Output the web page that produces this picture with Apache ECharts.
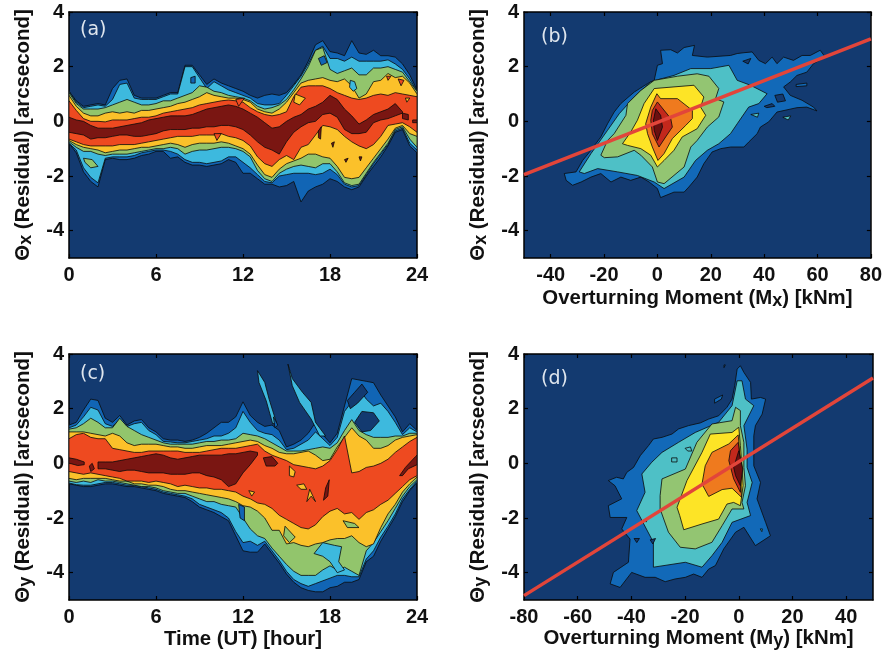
<!DOCTYPE html>
<html><head><meta charset="utf-8">
<style>html,body{margin:0;padding:0;background:#fff}#c{width:885px;height:657px;filter:blur(0.35px)}</style>
<script src="https://cdn.jsdelivr.net/npm/echarts@6/dist/echarts.min.js"></script>
</head><body><div id="c"></div>
<script>
const hours=[0,.5,1,1.5,2,2.5,3,3.5,4,4.5,5,5.5,6,6.5,7,7.5,8,8.5,9,9.5,10,10.5,11,11.5,12,12.5,13,13.5,14,14.5,15,15.5,16,16.5,17,17.5,18,18.5,19,19.5,20,20.5,21,21.5,22,22.5,23,23.5,24];
const yTicks=[-4,-2,0,2,4];
const hourTicks=[0,6,12,18,24];
const mxTicks=[-40,-20,0,20,40,60,80];
const myTicks=[-80,-60,-40,-20,0,20,40];

// Panel (a)
const aUp1=[1.1,.75,.55,.6,.65,.6,1.2,1.5,1.55,.95,.85,.85,.85,.95,1.05,1.05,2.05,2.05,1.7,1.35,1.55,1.4,1.3,1.2,1.1,.95,.85,.95,1,.95,1.05,1.35,1.7,2.2,2.8,2.95,2.55,2.5,2.4,2.95,2.5,2.45,2.6,2.4,2.4,2.35,2.1,1.7,1.15];
const aUp2=[1.1,.7,.5,.55,.6,.55,.8,1.35,1.4,.85,.8,.8,.8,.9,1,1,2,2,1.6,1.2,1.45,1.3,1.15,1.05,.95,.85,.65,.6,.6,.65,.95,1.3,1.65,2.1,2.6,2.75,2.3,2.3,2.2,2.35,2.2,2.2,2.2,2.2,2.25,2.1,1.9,1.55,1.1];
const aUp3=[1.05,.65,.45,.45,.45,.5,.6,.7,.8,.7,.6,.6,.65,.75,.75,.85,.95,1.05,1.3,1.25,1.1,1.05,.95,.9,.85,.75,.55,.45,.5,.6,.8,1.15,1.55,2,2.6,2.7,1.9,1.75,1.85,1.95,1.7,1.7,1.95,1.95,2,1.9,1.8,1.45,1.1];
const aUp4=[.95,.55,.3,.2,.2,.3,.35,.3,.35,.3,.4,.4,.45,.5,.55,.65,.7,.8,.9,1.05,.95,.9,.85,.85,.8,.7,.45,.35,.3,.45,.7,1.05,1.4,1.5,1.55,1.6,1.5,1.45,1.55,1.3,.85,1,1.45,1.5,1.75,1.6,1.65,1.4,1];
const aUp5=[.75,.4,.1,0,0,-.02,.05,.05,.05,.1,.15,.15,.2,.3,.35,.4,.45,.5,.6,.65,.7,.75,.78,.75,.7,.5,.35,.25,.2,.25,.35,.9,1.25,1.3,1.3,1.3,1.2,1.05,.95,.85,.8,.85,.95,1,.95,1.05,1,.95,.9];
const aUp6=[.15,.05,0,-.15,-.25,-.25,-.25,-.2,-.15,-.1,-.05,.05,.1,.15,.2,.2,.2,.25,.35,.45,.5,.55,.6,.55,.45,.3,.15,-.05,-.25,-.2,0,.15,.25,.45,.55,.7,.95,.8,.45,.2,-.1,.05,.25,.35,.45,.65,.35,null,null];
const aLo1=[-.8,-1.15,-1.85,-2.2,-2.4,-1.4,-1.35,-1.4,-1.4,-1.35,-1.25,-1.2,-1.1,-1.1,-1.35,-1.3,-1.5,-1.6,-1.6,-1.65,-1.6,-1.55,-1.4,-1.5,-1.9,-1.9,-2.1,-2.3,-2.3,-2.4,-2.35,-2.2,-2.95,-2.55,-2.4,-2.3,-2.1,-2.2,-2.4,-2.5,-2.4,-2,-1.65,-1.3,-.9,-.4,-.3,-.9,-1.15];
const aLo2=[-.8,-1.05,-1.7,-2.05,-2.25,-1.35,-1.3,-1.3,-1.3,-1.25,-1.15,-1.1,-1.05,-1.05,-1.1,-1.2,-1.4,-1.5,-1.5,-1.55,-1.5,-1.45,-1.3,-1.3,-1.5,-1.7,-1.95,-2.2,-2.25,-2,-1.95,-1.9,-1.9,-1.9,-1.95,-1.9,-1.75,-1.95,-2.3,-2.4,-2.35,-1.95,-1.55,-1.2,-.85,-.35,-.25,-.8,-1.05];
const aLo3=[-.75,-.95,-1.1,-1.1,-1.2,-1.25,-1.2,-1.2,-1.2,-1.15,-1.1,-1.05,-1,-1,-.95,-1,-1.2,-1.1,-1.05,-1.05,-1,-.95,-.95,-1,-1.1,-1.3,-1.8,-2.1,-2.2,-1.9,-1.75,-1.65,-1.6,-1.65,-1.7,-1.55,-1.55,-1.85,-2.25,-2.35,-2.3,-1.9,-1.5,-1.15,-.8,-.3,-.2,-.65,-.95];
const aLo4=[-.7,-.85,-.95,-1,-1.05,-1.15,-1.1,-1.05,-1.05,-1,-.95,-.95,-.9,-.85,-.8,-.85,-.95,-.85,-.8,-.8,-.8,-.75,-.8,-.9,-1,-1.2,-1.6,-1.95,-2.05,-1.75,-1.55,-1.45,-1.35,-1.2,-1.2,-1.3,-1.35,-1.65,-2.05,-2.1,-2.05,-1.7,-1.35,-1,-.65,-.25,-.15,-.45,-.55];
const aLo5=[-.65,-.75,-.85,-.9,-.9,-.9,-.9,-.85,-.85,-.85,-.8,-.75,-.7,-.65,-.6,-.55,-.55,-.55,-.5,-.5,-.5,-.45,-.55,-.6,-.7,-.9,-1.3,-1.55,-1.65,-1.4,-1.25,-1.4,-.95,-.85,-.5,-.15,-.2,-.3,-.55,-.75,-.9,-1,-.85,-.55,-.15,-.1,-.05,-.2,-.4];
const aLo6=[-.4,-.45,-.5,-.65,-.6,-.6,-.55,-.5,-.5,-.55,-.55,-.5,-.45,-.35,-.3,-.3,-.3,-.25,-.25,-.2,-.2,-.15,-.15,-.2,-.3,-.5,-.75,-.95,-1.05,-1.2,-.75,-.4,-.2,-.05,0,.25,.3,.15,-.3,-.45,-.45,-.4,-.05,.05,.1,.2,.3,null,null];
const aSpots=[
 [1,[[17.2,2.3],[17.6,2.4],[17.8,2.15],[17.4,2.05]]],
 [2,[[19.4,1.5],[19.7,1.45],[19.85,1.2],[19.6,1.1],[19.35,1.25]]],
 [3,[[1,-1.35],[1.6,-1.4],[2,-1.65],[1.5,-1.7],[1.1,-1.5]]],
 [1,[[8.4,1.6],[8.7,1.65],[8.7,1.4],[8.4,1.4]]],
 [5,[[11.5,.8],[12.1,.85],[11.7,.55]]],
 [5,[[10,-.45],[10.5,-.45],[10.2,-.7]]],
 [4,[[15.6,1.0],[16.3,.85],[15.9,.6],[15.5,.7]]],
 [5,[[21.9,1.65],[22.2,1.65],[22,1.5]]],
 [5,[[22.7,1.55],[23.1,1.5],[22.9,1.3]]],
 [4,[[23.2,.85],[23.5,.85],[23.3,.7]]],
 [6,[[23,.3],[23.4,.25],[23.4,.05],[23,.1]]],
 [6,[[23.7,.05],[24,.05],[24,-.05],[23.7,-.05]]],
 [6,[[17.2,-.35],[17.4,-.2],[17.35,-.65],[17.2,-.6]]],
 [6,[[20,-1.3],[20.2,-1.3],[20.1,-1.45]]],
 [6,[[19,-1.4],[19.25,-1.35],[19.1,-1.5]]],
 [6,[[18.1,-.8],[18.3,-.75],[18.2,-.95]]]
];

// Panel (c)
const cUp1=[1.4,1.5,1.95,2.35,2.3,1.65,1.5,1.75,1.4,1.55,1.6,1.3,1.15,.9,.85,.85,.8,.85,.95,1.1,1.3,1.5,1.5,1.7,2.25,1.75,1.5,1.35,1.4,1.2,.6,.7,.85,1.1,1.5,1.05,.75,1.1,2.1,3.1,3.05,3,2.95,2.5,2.1,1.7,1.15,1.45,1.2];
const cUp2=[1.3,1.4,1.7,2.05,1.95,1.45,1.35,1.6,1.35,1.45,1.5,1.2,1.05,.8,.78,.75,.75,.8,.85,.9,1,1,1.1,1.3,1.9,1.5,1.2,1.1,1.05,.85,.5,.55,.7,.85,1.15,.9,.65,.95,1.9,2.25,2.75,2.35,2.1,2.2,1.9,1.5,1.05,1.3,1.15];
const cUp3=[1.25,1.3,1.45,1.65,1.5,1.3,1.3,1.65,1.35,1.2,1.05,.95,.85,.75,.7,.7,.7,.7,.75,.8,.8,.85,.85,.9,1.1,1.05,1,.9,.75,.6,.45,.45,.45,.5,.55,.6,.55,.75,1.2,1.6,1.2,1.05,.95,.95,.95,1,1,1.1,1.1];
const cUp4=[1.15,1.15,1.15,1.1,1.05,1,1.1,1,.75,.65,.7,.7,.7,.65,.6,.6,.55,.55,.6,.65,.65,.65,.7,.75,.8,.85,.8,.65,.55,.4,.35,.35,.4,.45,.3,.1,.15,.6,.95,1.3,1,.85,.55,.55,.65,.85,.95,1,1.05];
const cUp5=[.9,1.05,1.1,.95,.9,.9,.55,.5,.45,.4,.4,.45,.45,.45,.45,.45,.4,.4,.4,.45,.5,.55,.55,.55,.6,.65,.7,.45,.3,.2,.1,-.05,-.1,-.15,-.2,-.1,.1,.5,1,-.35,-.3,-.15,-.1,0,.15,.4,.6,.8,.95];
const cUp6=[null,null,null,null,.05,.05,.05,.1,.15,.2,.25,.3,.35,.3,.2,.15,.2,.25,.3,.3,.3,.3,.35,.35,.4,.45,.4,null,null,null,null,null,null,null,null,null,null,null,null,null,null,null,null,null,null,null,null,null,null];
const cLo1=[-.75,-.8,-.85,-.85,-.8,-.75,-.75,-.8,-.85,-.85,-.9,-.95,-1,-1.1,-1.15,-1.2,-1.25,-1.4,-1.6,-1.7,-1.8,-1.95,-2.1,-2.65,-3.2,-3.25,-3.25,-2.95,-3.3,-3.65,-4.05,-4.35,-4.55,-4.65,-4.7,-4.7,-4.55,-4.5,-4.35,-4.35,-4.25,-3.6,-3.4,-2.85,-2.4,-1.95,-1.4,-1,-.7];
const cLo2=[-.72,-.78,-.8,-.8,-.75,-.7,-.7,-.75,-.8,-.8,-.85,-.9,-.95,-1.05,-1.1,-1.15,-1.2,-1.3,-1.5,-1.6,-1.7,-1.8,-2,-2.5,-2.9,-2.85,-3,-2.85,-3.2,-3.55,-3.95,-4.25,-4.4,-4.5,-4.4,-4.3,-4.2,-4.1,-4.1,-4.15,-4.15,-3.5,-3.2,-2.7,-2.3,-1.85,-1.3,-.95,-.65];
const cLo3=[-.65,-.7,-.65,-.7,-.6,-.65,-.65,-.7,-.75,-.8,-.85,-.85,-.9,-1,-1.05,-1.1,-1.1,-1.2,-1.3,-1.4,-1.4,-1.5,-1.55,-1.6,-2,-2.4,-2.65,-2.75,-3.1,-3.4,-3.7,-3.95,-4.1,-4.1,-4.1,-3.9,-3.75,-3.9,-3.8,-3.95,-4.1,-3.2,-2.9,-2.5,-2.1,-1.65,-1.2,-.85,-.6];
const cLo4=[-.55,-.6,-.55,-.55,-.55,-.55,-.6,-.65,-.65,-.75,-.75,-.8,-.8,-.85,-.95,-1,-1,-1.05,-1.1,-1.15,-1.2,-1.25,-1.3,-1.4,-1.55,-1.6,-1.75,-2,-2.45,-2.45,-2.95,-2.9,-3,-3.05,-2.95,-2.9,-2.8,-2.75,-2.75,-2.65,-2.9,-3.05,-2.95,-2.35,-1.85,-1.5,-1.05,-.75,-.5];
const cLo5=[-.3,-.35,-.4,-.35,-.4,-.45,-.5,-.55,-.65,-.65,-.65,-.7,-.65,-.7,-.75,-.85,-.8,-.85,-.9,-.9,-.95,-.95,-1,-1.05,-1.2,-1.3,-1.45,-1.5,-1.65,-1.9,-2.05,-2.2,-2.35,-2.4,-2.25,-1.95,-1.75,-1.65,-1.85,-1.8,-2.05,-1.8,-1.7,-1.5,-1.35,-1.1,-.85,-.6,-.45];
const cLo6=[null,null,null,null,-.2,-.2,-.25,-.3,-.25,-.25,-.3,-.35,-.35,-.35,-.4,-.4,-.4,-.35,-.35,-.45,-.5,-.6,-.85,-.75,-.35,-.05,.3,null,null,null,null,null,null,null,null,null,null,null,null,null,null,null,null,null,null,null,null,null,null];
const cSpots=[
 [0,[[19.7,1.5],[20.2,1.9],[21,1.85],[21.4,1.55],[20.8,1.2],[20.2,1.15]]],
 [0,[[19.2,2.3],[19.7,2.6],[20.2,2.9],[20.6,2.6],[19.9,2.2],[19.4,2]]],
 [2,[[13,3.39],[13.5,2.96],[13.8,2.35],[14.3,1.5],[14.05,1.44],[13.6,2.29],[13.1,2.96]]],
 [2,[[15.1,3.63],[15.4,3.1],[16.1,2.6],[16.7,2.23],[17,1.5],[17.7,1],[17.3,1],[16.7,1.62],[15.9,2.23],[15.4,2.84]]],
 [1,[[14.1,1.7],[14.4,1.4],[14.2,1.3]]],
 [4,[[15.2,-.1],[15.6,-.3],[15.5,-.5],[15.2,-.45]]],
 [4,[[15.7,-.8],[16.2,-.75],[16.4,-.95],[16,-.95]]],
 [4,[[16.4,-1.4],[16.6,-.95],[17,-1.4],[16.7,-1.2]]],
 [4,[[12.4,-1],[12.8,-1.05],[12.6,-1.2]]],
 [3,[[14.9,-2.3],[15.6,-2.7],[15.2,-2.9],[14.8,-2.65]]],
 [3,[[18.9,-2.1],[19.7,-2.2],[20,-2.35],[19.2,-2.35]]],
 [2,[[16.9,-3.3],[17.5,-2.9],[18.3,-3],[18.8,-3.05],[18.6,-3.6],[19,-3.9],[18.5,-4],[18,-3.6],[17.5,-3.4]]],
 [6,[[17.55,-1.35],[17.7,-.9],[17.95,-.6],[17.85,-1.2]]],
 [6,[[0,.2],[.5,.15],[1.05,.05],[1.05,-.05],[.6,-.08],[.2,-.02],[0,0]]],
 [6,[[13.4,.2],[14,.25],[14.4,0],[14.2,-.1],[13.6,-.1]]],
 [6,[[22.8,-.45],[23.2,-.15],[23.9,.25],[24,.3],[24,-.05],[23.4,-.2],[23,-.45]]],
 [6,[[1.5,-.3],[1.75,-.2],[1.6,.0],[1.4,-.1]]],
 [1,[[11.7,-1.5],[12.1,-1.6],[12.1,-2.1],[11.8,-2]]]
];

// Panel (b): contour outlines, [moment, residual]
const bLevel1=[[-34.9,-1.91],[-30.5,-1.85],[-28,-1.43],[-24.9,-1.06],[-21.2,-.57],[-18.7,-.09],[-16.2,.34],[-13.7,.65],[-8.7,1.07],[-3.7,1.38],[-1.2,1.5],[0,2.05],[1.9,2.11],[1.2,2.6],[5,2.62],[7.5,2.5],[10,2.7],[13.9,2.78],[13.1,2.41],[18.7,2.35],[27.4,2.41],[29.9,2.48],[32.4,2.51],[35.5,2.54],[38,2.23],[40.5,2.11],[43,2.35],[44.8,2.11],[47.3,2.35],[51,2.23],[54.2,2.41],[57.3,2.41],[61,2.6],[62.9,2.35],[58.5,2.11],[56,1.8],[52.3,1.68],[49.8,1.44],[47.3,1.26],[49.8,.95],[54.2,.77],[58.5,.52],[59.8,.38],[56,.52],[52.3,.5],[44.8,.34],[41.7,-.02],[38.6,-.21],[37.4,-.45],[34.2,-.76],[32.4,-.94],[27.4,-.94],[23.7,-1],[20.5,-1.12],[17.4,-1.55],[14.9,-2.04],[11.8,-2.4],[10,-2.59],[6.2,-2.59],[1.2,-2.79],[0,-2.46],[-3.1,-2.22],[-6.2,-2.04],[-10,-2.16],[-13.7,-2.04],[-17.4,-2.22],[-21.2,-1.91],[-24.9,-2.04],[-28.6,-2.22],[-31.8,-2.34],[-34.2,-2.16]];
const bLevel2=[[-29.3,-1.85],[-24.9,-1.18],[-18.7,-.33],[-14.3,.28],[-8.1,.95],[-2.5,1.44],[0,1.52],[6.2,1.68],[12.5,1.93],[20,1.93],[26.8,2.05],[29.9,1.5],[34.9,1.32],[41.1,1.01],[38,.65],[34.2,.52],[29.9,-.09],[27.4,-.45],[23,-.82],[18.7,-1.06],[14.3,-1.43],[10,-2.04],[2.5,-2.46],[-1.2,-2.22],[-7.5,-1.98],[-14.9,-1.85],[-22.4,-1.73],[-27.4,-1.91]];
const bLevel3=[[-21.2,-1.24],[-18.7,-.7],[-16.2,-.45],[-11.8,.22],[-11.2,.65],[-6.2,1.13],[-1.2,1.5],[7.5,1.65],[14.9,1.74],[19.3,1.65],[23,1.2],[21.8,.83],[24.9,.71],[23,.16],[18.7,-.21],[14.9,-.7],[12.5,-.94],[10,-1.67],[2.5,-2.28],[0,-2.22],[-1.9,-1.67],[-6.2,-1.24],[-8.7,-1.06],[-14.9,-1.3],[-19.9,-1.33]];
const bLevel4=[[-13.1,-.82],[-10,-.39],[-7.5,.04],[-5,.65],[-1.2,1.2],[6.2,1.26],[13.7,1.32],[17.4,.89],[16.2,.52],[18.1,.22],[14.9,-.27],[9.3,-.57],[6.2,-1.06],[2.5,-1.43],[0,-1.67],[-2.5,-1.24],[-6.2,-1],[-11.2,-.88]];
const bLevel5=[[-4.4,-.09],[-2.5,.52],[-.2,1.01],[1.2,.83],[7.5,.83],[13.1,.4],[13.1,.1],[10.6,-.15],[5.6,-.63],[2.5,-1.18],[.2,-1.43],[-1.9,-.94],[-3.7,-.45]];
const bLevel6=[[-2.5,.04],[-1.9,.4],[0,.71],[5,.1],[5.6,-.21],[3.1,-.57],[.6,-.94],[-1.9,-.45]];
const bLevel7=[[-1.5,.04],[-.6,.46],[1.2,.22],[1.9,-.21],[0,-.7],[-1.2,-.33]];
const bSpots=[
 [0,[[40,.55],[43,.65],[44,.55],[41,.5]]],[0,[[44,.95],[47,1.0],[48,.75],[45,.7]]],
 [1,[[52,1.35],[56,1.4],[56,1.3],[52,1.27]]],[2,[[35,.25],[38,.3],[37.5,.15]]],
 [2,[[47,.15],[50,.2],[49,.05]]],[0,[[32,2.2],[35,2.3],[34,2.1]]]
];
const bFit=[[-50,-1.95],[80,3.02]];

// Panel (d): contour outlines, [moment, residual]
const dLevel1=[[-48.6,-.63],[-45.5,-.51],[-43,-.57],[-41.7,-.33],[-39.2,-.15],[-36.7,.28],[-33.6,.65],[-31.8,.89],[-28.6,.95],[-24.9,1.07],[-22.4,1.26],[-18.7,1.38],[-14.3,1.48],[-11.2,1.62],[-7.5,1.74],[-4.4,2.05],[-2.5,2.35],[-1.5,2.84],[-.6,3.45],[.6,3.57],[1.9,3.33],[4.4,2.96],[4.7,2.35],[8.1,2.41],[10,2.35],[8.7,1.8],[6.2,1.38],[5.6,1.01],[5.6,.52],[5.6,-.09],[8.1,-.7],[6.8,-1.3],[10,-2.16],[11.8,-2.65],[6.2,-3.01],[1.9,-2.34],[-1.2,-2.52],[-5.6,-3.13],[-8.7,-3.74],[-11.2,-3.87],[-13.7,-4.17],[-16.8,-4.05],[-19.9,-4.17],[-23.7,-4.23],[-27.4,-4.33],[-31.1,-4.17],[-34.9,-4.17],[-39.9,-3.99],[-44.2,-4.54],[-47.9,-4.41],[-46.7,-3.99],[-41.1,-3.62],[-40.5,-2.77],[-43.6,-2.4],[-41.7,-1.98],[-47.9,-1.98],[-48.6,-1.55],[-43.6,-1.3],[-46.1,-.82]];
const dLevel2=[[-36.1,-.39],[-32.4,.04],[-28.6,.4],[-22.4,.77],[-16.2,1.13],[-7.5,1.5],[-2.5,2.11],[-.6,3.02],[1.2,3.02],[2.5,2.35],[5.6,2.11],[1.9,1.38],[3.1,.52],[3.1,-.15],[5,-.7],[3.1,-1.43],[4.4,-1.91],[-2.5,-2.16],[-6.2,-2.89],[-10,-3.38],[-13.7,-3.8],[-19.9,-3.62],[-31.8,-3.8],[-31.8,-2.89],[-38,-1.73],[-34.9,-1.06]];
const dLevel3=[[-29.3,-1.18],[-28.6,-.57],[-19.9,-.21],[-15.6,.77],[-10,1.44],[-2.5,1.56],[-1.2,2.05],[.6,1.93],[.6,1.38],[1.9,.77],[1.9,-.15],[2.5,-.82],[1.2,-1.43],[1.9,-1.67],[-2.5,-1.67],[-6.2,-2.28],[-10,-2.89],[-16.2,-3.13],[-21.8,-3.07],[-26.2,-2.52],[-29.3,-1.67]];
const dLevel4=[[-23,-1.61],[-19.3,-.63],[-13.7,.4],[-10.6,1.07],[-2.5,1.13],[0,1.32],[.6,.65],[1.2,-.15],[1.6,-.82],[.6,-1.55],[-1.9,-1.43],[-4.4,-1.49],[-7.5,-2.04],[-13.7,-2.22],[-20.5,-2.43],[-22,-1.91]];
const dLevel5=[[-13.7,-.76],[-12.5,-.09],[-10,.4],[-3.7,.71],[-.2,1.04],[.6,.04],[1,-1.24],[-2.5,-.91],[-6.2,-.96],[-11.2,-1.21]];
const dLevel6=[[-3.7,.1],[-3.1,.46],[-.2,.77],[1,-.21],[.6,-1.06],[-1.9,-.57]];
const dLevel7=[[-1.9,-.15],[0,.46],[1.5,-.21],[.6,-.82],[-1.2,-.45]];
const dSpots=[
 [1,[[-6,2.5],[-9,2.35],[-9,2.2],[-6.5,2.35]]],[1,[[-5.5,3.6],[-5,3.6],[-5.5,3.5]]],
 [2,[[-25,.2],[-23,.2],[-23,.05],[-25,.05]]],[2,[[-20,.55],[-18,.6],[-17.5,.45],[-19,.45]]],
 [2,[[8,-2.4],[8.8,-2.4],[8.6,-2.5]]],[0,[[-39,-2.75],[-37,-2.75],[-38,-2.9]]],
 [0,[[-33,-2.8],[-31,-2.75],[-32,-2.95]]],[0,[[-35,-2.05],[-34,-2],[-34.5,-2.15]]]
];
const dFit=[[-80,-4.84],[50,3.12]];

const warm=['#133a70','#1165b5','#3db9de','#92c56c','#fbc12a','#ee4a20','#7a1612'];
const cool=['#133a70','#1269b8','#4ec0c6','#93c572','#fde426','#ef7a1e','#c3281c','#6c0f10'];

function band(x,up,lo){
  const top=[],bot=[];
  x.forEach((h,i)=>{ if(up[i]!=null){top.push([h,up[i]]);bot.unshift([h,lo[i]]);} });
  return top.concat(bot);
}
function layers(list,palette){ return list.map(l=>({poly:l[1],color:palette[l[0]]})); }

const panels=[
 {left:68,top:12,x:[0,24],xt:hourTicks,xname:'',gap:27,yname:'x',tag:'(a)',tx:80,ty:21,
  shapes:[[1,band(hours,aUp1,aLo1)],[2,band(hours,aUp2,aLo2)],[3,band(hours,aUp3,aLo3)],[4,band(hours,aUp4,aLo4)],[5,band(hours,aUp5,aLo5)],[6,band(hours,aUp6,aLo6)]].concat(aSpots),pal:warm},
 {left:524,top:12,x:[-50,80],xt:mxTicks,xname:'{n|Overturning Moment (M}{s|x}{n|) [kNm]}',gap:28,yname:'x',tag:'(b)',tx:541,ty:28,
  shapes:[[1,bLevel1],[2,bLevel2],[3,bLevel3],[4,bLevel4],[5,bLevel5],[6,bLevel6],[7,bLevel7]].concat(bSpots),pal:cool,fit:bFit},
 {left:68,top:354,x:[0,24],xt:hourTicks,xname:'{n|Time (UT) [hour]}',gap:27,yname:'y',tag:'(c)',tx:80,ty:365,
  shapes:[[1,band(hours,cUp1,cLo1)],[2,band(hours,cUp2,cLo2)],[3,band(hours,cUp3,cLo3)],[4,band(hours,cUp4,cLo4)],[5,band(hours,cUp5,cLo5)],[6,band(hours,cUp6,cLo6)]].concat(cSpots),pal:warm},
 {left:524,top:354,x:[-80,50],xt:myTicks,xname:'{n|Overturning Moment (M}{s|y}{n|) [kNm]}',gap:26,yname:'y',tag:'(d)',tx:541,ty:370,
  shapes:[[1,dLevel1],[2,dLevel2],[3,dLevel3],[4,dLevel4],[5,dLevel5],[6,dLevel6],[7,dLevel7]].concat(dSpots),pal:cool,fit:dFit}
];

const FONT='"Liberation Sans",Arial,sans-serif';
const rich={n:{fontFamily:FONT,fontWeight:'bold',fontSize:20.4,color:'#111',lineHeight:24},
            s:{fontFamily:FONT,fontWeight:'bold',fontSize:18,color:'#111',lineHeight:24,verticalAlign:'bottom',padding:[16,0,0,0]}};
const grid=[],xAxis=[],yAxis=[],series=[],graphic=[];
const line={show:true,onZero:false,lineStyle:{color:'#000',width:1.5}};
panels.forEach((p,i)=>{
  grid.push({left:p.left,top:p.top,width:349,height:246,show:true,backgroundColor:warm[0],borderWidth:0,containLabel:false});
  const tick={show:true,inside:true,length:4,lineStyle:{color:'#000',width:1.2}};
  xAxis.push({type:'value',gridIndex:i,min:p.x[0],max:p.x[1],position:'bottom',axisLine:line,
    axisTick:{...tick,customValues:p.xt},splitLine:{show:false},
    axisLabel:{customValues:p.xt,margin:7,fontFamily:FONT,fontWeight:'bold',fontSize:20,color:'#111'},
    name:p.xname,nameLocation:'middle',nameGap:p.gap,nameMoveOverlap:false,nameTextStyle:{rich}});
  xAxis.push({type:'value',gridIndex:i,min:p.x[0],max:p.x[1],position:'top',axisLine:line,
    axisTick:{...tick,customValues:p.xt},splitLine:{show:false},axisLabel:{show:false}});
  yAxis.push({type:'value',gridIndex:i,min:-5,max:4,position:'left',axisLine:line,
    axisTick:{...tick,customValues:yTicks},splitLine:{show:false},
    axisLabel:{customValues:yTicks,margin:5,fontFamily:FONT,fontWeight:'bold',fontSize:20,color:'#111'},
    name:'{n|Θ}{s|'+p.yname+'}{n| (Residual) [arcsecond]}',nameLocation:'middle',nameGap:34,nameMoveOverlap:false,nameTextStyle:{rich}});
  yAxis.push({type:'value',gridIndex:i,min:-5,max:4,position:'right',axisLine:line,
    axisTick:{...tick,customValues:yTicks},splitLine:{show:false},axisLabel:{show:false}});
  const items=layers(p.shapes,p.pal);
  series.push({type:'custom',xAxisIndex:i*2,yAxisIndex:i*2,coordinateSystem:'cartesian2d',silent:true,clip:true,z:2,
    data:items.map((_, k)=>[k]),encode:{x:-1,y:-1},
    renderItem(params,api){
      const it=items[params.dataIndex];
      return {type:'polygon',shape:{points:it.poly.map(q=>api.coord(q))},
        style:{fill:it.color,stroke:'#0a0a0a',lineWidth:.8}};
    }});
  if(p.fit) series.push({type:'line',xAxisIndex:i*2,yAxisIndex:i*2,data:p.fit,symbol:'none',silent:true,z:5,
    lineStyle:{color:'#e2453a',width:3.5}});
  graphic.push({type:'text',left:p.tx,top:p.ty,silent:true,z:10,style:{text:p.tag,fill:'#dfe6ee',font:'19px "DejaVu Sans"'}});
});
const chart=echarts.init(document.getElementById('c'),null,{renderer:'canvas',width:885,height:657});
chart.setOption({animation:false,backgroundColor:'#fff',grid,xAxis,yAxis,series,graphic});
</script></body></html>
